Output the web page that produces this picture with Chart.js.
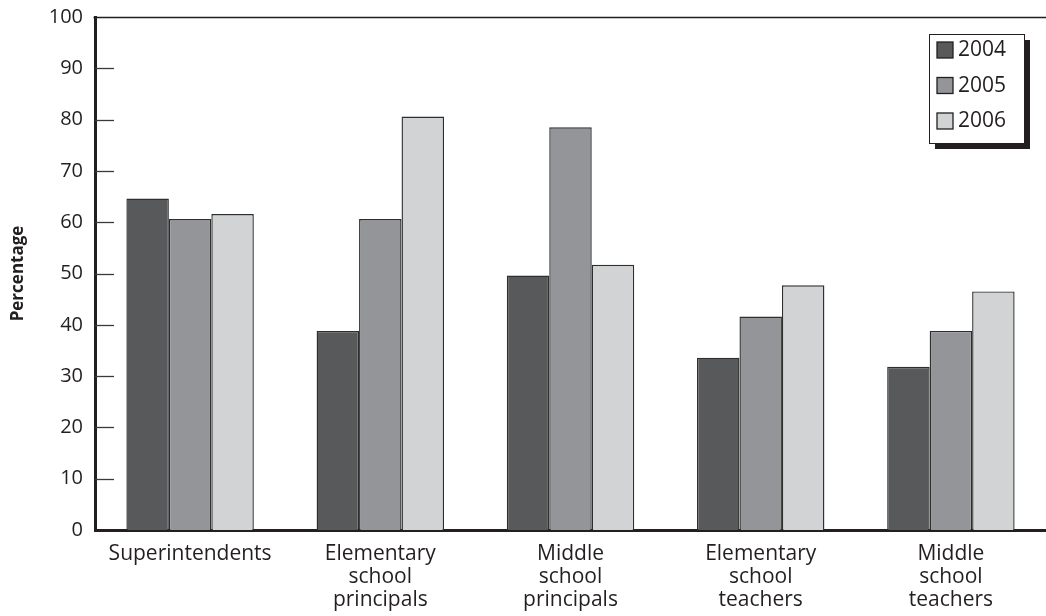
<!DOCTYPE html>
<html>
<head>
<meta charset="utf-8">
<script src="https://cdn.jsdelivr.net/npm/chart.js@4/dist/chart.umd.min.js"></script>
<style>
  html, body { margin: 0; padding: 0; background: #ffffff; }
  #wrap { width: 1046px; height: 616px; position: relative; }
</style>
</head>
<body>
<div id="wrap"><canvas id="c" width="1046" height="616"></canvas></div>
<script>
const categories = [
  "Superintendents",
  ["Elementary", "school", "principals"],
  ["Middle", "school", "principals"],
  ["Elementary", "school", "teachers"],
  ["Middle", "school", "teachers"]
];
const seriesNames = ["2004", "2005", "2006"];
const values2004 = [64.6, 38.8, 49.6, 33.6, 31.8];
const values2005 = [60.6, 60.6, 78.5, 41.6, 38.8];
const values2006 = [61.6, 80.6, 51.7, 47.7, 46.5];
const yTicks = [0, 10, 20, 30, 40, 50, 60, 70, 80, 90, 100];

const colors = ["#58595b", "#939598", "#d1d3d4"];
const ink = "#231f20";
const fontFamily = "'Open Sans', 'Noto Sans', sans-serif";

const frame = {
  id: "frame",
  afterDraw(chart) {
    const { ctx, chartArea: a, scales: { y } } = chart;
    ctx.save();
    // top border
    ctx.strokeStyle = ink;
    ctx.lineWidth = 1.5;
    ctx.beginPath();
    ctx.moveTo(a.left - 1.5, a.top + 0.5);
    ctx.lineTo(1046, a.top + 0.5);
    ctx.stroke();
    // inward ticks
    ctx.lineWidth = 1.3;
    ctx.strokeStyle = "#3a3a3a";
    yTicks.forEach(v => {
      if (v === 0 || v === 100) return;
      const py = Math.round(y.getPixelForValue(v)) + 0.5;
      ctx.beginPath();
      ctx.moveTo(a.left, py);
      ctx.lineTo(a.left + 19, py);
      ctx.stroke();
    });
    // legend box with shadow
    const bx = 929, by = 34, bw = 95, bh = 109;
    ctx.fillStyle = ink;
    ctx.fillRect(bx + 6, by + 6, bw, bh);
    ctx.fillStyle = "#ffffff";
    ctx.fillRect(bx, by, bw, bh);
    ctx.strokeStyle = ink;
    ctx.lineWidth = 1;
    ctx.strokeRect(bx + 0.5, by + 0.5, bw, bh);
    ctx.font = "21px " + fontFamily;
    ctx.textBaseline = "middle";
    ctx.textAlign = "left";
    chart.data.datasets.forEach((ds, i) => {
      const sy = 42 + i * 35.5;
      ctx.fillStyle = ds.backgroundColor;
      ctx.fillRect(937, sy, 16, 16);
      ctx.strokeStyle = ink;
      ctx.lineWidth = 1.3;
      ctx.strokeRect(937, sy, 16, 16);
      ctx.fillStyle = ink;
      ctx.fillText(ds.label, 958, sy + 8.5);
    });
    ctx.restore();
  }
};

new Chart(document.getElementById("c"), {
  type: "bar",
  data: {
    labels: categories,
    datasets: [values2004, values2005, values2006].map((vals, i) => ({
      label: seriesNames[i],
      data: vals,
      backgroundColor: colors[i],
      borderColor: "#2e2e2e",
      borderWidth: 1.4,
      barPercentage: 1.0,
      categoryPercentage: 0.67
    }))
  },
  options: {
    responsive: false,
    animation: false,
    devicePixelRatio: 1,
    layout: { padding: { top: 17, right: 0, left: 0, bottom: 0 } },
    plugins: { legend: { display: false }, tooltip: { enabled: false } },
    scales: {
      x: {
        grid: { display: false, drawTicks: false },
        border: { display: true, color: ink, width: 3 },
        ticks: {
          color: ink,
          padding: 12,
          maxRotation: 0,
          autoSkip: false,
          font: { family: fontFamily, size: 21, lineHeight: 1.1 }
        },
        afterFit(s) { s.height = 86; s.paddingLeft = 0; s.paddingRight = 0; }
      },
      y: {
        min: 0,
        max: 100,
        grid: { display: false, drawTicks: false },
        border: { display: true, color: ink, width: 3 },
        ticks: {
          stepSize: 10,
          color: ink,
          padding: 12,
          font: { family: fontFamily, size: 20 }
        },
        title: {
          display: true,
          text: "Percentage",
          color: ink,
          font: { family: fontFamily, size: 17, weight: "bold" },
          padding: { top: 8, bottom: 0 }
        },
        afterFit(s) { s.width = 95; s.paddingTop = 0; s.paddingBottom = 0; }
      }
    }
  },
  plugins: [frame]
});
</script>
</body>
</html>
